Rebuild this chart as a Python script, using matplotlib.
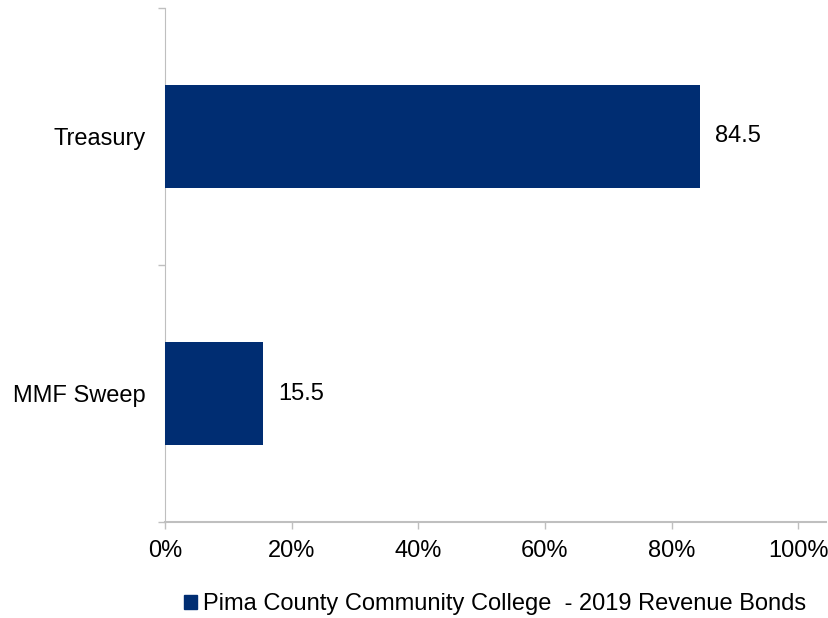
import matplotlib
matplotlib.use("Agg")
import matplotlib.pyplot as plt
from matplotlib.patches import Patch
from matplotlib.ticker import PercentFormatter

categories = ["MMF Sweep", "Treasury"]
shares = [15.5, 84.5]
series_name = "Pima County Community College  - 2019 Revenue Bonds"
x_ticks = [0, 20, 40, 60, 80, 100]

navy = "#002D72"
axis_grey = "#BFBFBF"
fs = 17

plt.rcParams["font.family"] = ["Liberation Sans", "DejaVu Sans"]

fig = plt.figure(figsize=(8.29, 6.18), dpi=100)
ax = fig.add_axes([165 / 829, 1 - 522 / 618, (826 - 165) / 829, (522 - 8) / 618])

pos = list(range(len(categories)))
ax.barh(pos, shares, height=0.4, color=navy, zorder=3)
for y, v in zip(pos, shares):
    ax.text(v + 2.4, y, f"{v:.1f}", va="center", ha="left", fontsize=fs, color="black")

ax.set_xlim(0, 104.4)
ax.set_ylim(-0.5, len(categories) - 0.5)

ax.set_xticks(x_ticks)
ax.xaxis.set_major_formatter(PercentFormatter(decimals=0))
ax.tick_params(axis="x", length=5, width=1, color=axis_grey, labelsize=fs, pad=8)

# category boundaries carry the tick marks, names sit between them
ax.set_yticks([i - 0.5 for i in range(len(categories) + 1)])
ax.set_yticklabels([])
ax.set_yticks(pos, minor=True)
ax.set_yticklabels(categories, minor=True)
ax.tick_params(axis="y", which="major", length=5, width=1, color=axis_grey)
ax.tick_params(axis="y", which="minor", length=0, labelsize=fs, pad=14)

for side in ("top", "right"):
    ax.spines[side].set_visible(False)
ax.spines["left"].set_color(axis_grey)
ax.spines["bottom"].set_color(axis_grey)
ax.spines["bottom"].set_linewidth(1.5)

ax.legend(handles=[Patch(color=navy, label=series_name)], loc="center",
          bbox_to_anchor=(0.5, -0.160), frameon=False, fontsize=fs,
          handlelength=0.55, handleheight=0.55, handletextpad=0.25)

fig.savefig("out.png", dpi=100, facecolor="white")
